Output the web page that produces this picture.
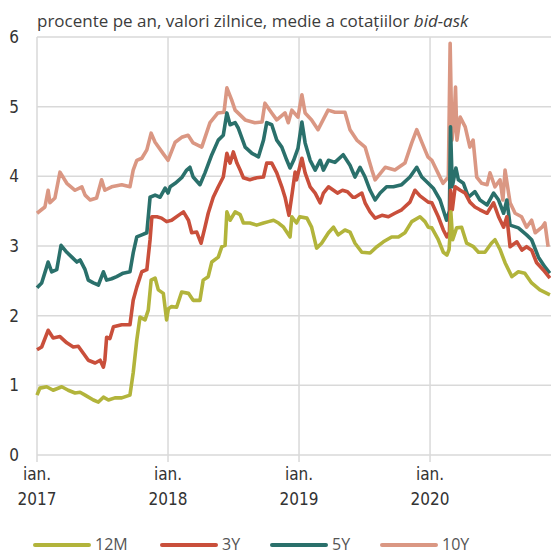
<!DOCTYPE html>
<html>
<head>
<meta charset="utf-8">
<script src="https://cdn.jsdelivr.net/npm/d3@7"></script>
<style>
  body { margin: 0; background: #fff; }
  svg { display: block; }
</style>
</head>
<body>
<div class="chart"></div>
<script>
// series names and colours (legend order)
const seriesNames = ['12M', '3Y', '5Y', '10Y'];
const seriesColors = ['#b2b43b', '#c94f3b', '#2a706b', '#da9783'];

const yTicks = [0, 1, 2, 3, 4, 5, 6];
const xTickYears = [2017, 2018, 2019, 2020];
const xTickMonth = 'ian.';
const title = 'procente pe an, valori zilnice, medie a cotațiilor ';
const titleItalic = 'bid-ask';

// daily values, [date, percent]
const s12M = [
  ['2017-01-01', 0.86], ['2017-01-09', 0.96], ['2017-01-28', 0.98], ['2017-02-15', 0.93],
  ['2017-03-11', 0.98], ['2017-03-29', 0.93], ['2017-04-17', 0.89], ['2017-05-01', 0.90],
  ['2017-05-15', 0.86], ['2017-06-07', 0.79], ['2017-06-21', 0.76], ['2017-07-05', 0.83],
  ['2017-07-19', 0.79], ['2017-08-06', 0.82], ['2017-08-25', 0.82], ['2017-09-17', 0.86],
  ['2017-09-26', 1.18], ['2017-10-06', 1.65], ['2017-10-15', 1.98], ['2017-10-29', 1.94],
  ['2017-11-07', 2.08], ['2017-11-15', 2.51], ['2017-11-26', 2.54], ['2017-12-05', 2.37],
  ['2017-12-19', 2.32], ['2017-12-28', 1.94], ['2018-01-02', 2.10], ['2018-01-11', 2.13],
  ['2018-01-25', 2.12], ['2018-02-08', 2.34], ['2018-02-27', 2.32], ['2018-03-12', 2.22],
  ['2018-03-31', 2.22], ['2018-04-09', 2.51], ['2018-04-23', 2.56], ['2018-05-03', 2.77],
  ['2018-05-21', 2.84], ['2018-05-31', 2.99], ['2018-06-09', 3.01], ['2018-06-14', 3.49],
  ['2018-06-23', 3.37], ['2018-07-07', 3.49], ['2018-07-21', 3.45], ['2018-07-30', 3.33],
  ['2018-08-17', 3.33], ['2018-09-05', 3.30], ['2018-09-24', 3.33], ['2018-10-08', 3.35],
  ['2018-10-22', 3.37], ['2018-11-05', 3.33], ['2018-11-19', 3.27], ['2018-12-07', 3.13],
  ['2018-12-12', 3.42], ['2018-12-25', 3.33], ['2019-01-03', 3.42], ['2019-01-23', 3.40],
  ['2019-02-05', 3.27], ['2019-02-19', 2.97], ['2019-03-05', 3.04], ['2019-03-24', 3.19],
  ['2019-04-07', 3.27], ['2019-04-20', 3.16], ['2019-05-09', 3.23], ['2019-05-23', 3.20],
  ['2019-06-06', 3.04], ['2019-06-25', 2.91], ['2019-07-18', 2.90], ['2019-08-06', 2.99],
  ['2019-08-24', 3.06], ['2019-09-16', 3.13], ['2019-10-05', 3.13], ['2019-10-23', 3.19],
  ['2019-11-11', 3.35], ['2019-12-04', 3.42], ['2019-12-18', 3.35], ['2019-12-27', 3.27],
  ['2020-01-06', 3.26], ['2020-01-24', 3.09], ['2020-02-07', 2.91], ['2020-02-17', 2.87],
  ['2020-02-23', 2.95], ['2020-02-26', 3.19], ['2020-02-28', 3.49], ['2020-03-04', 3.09],
  ['2020-03-15', 3.26], ['2020-03-29', 3.27], ['2020-04-12', 3.04], ['2020-05-01', 2.99],
  ['2020-05-15', 2.91], ['2020-06-02', 2.91], ['2020-06-20', 3.04], ['2020-06-30', 3.09],
  ['2020-07-14', 2.95], ['2020-07-28', 2.76], ['2020-08-16', 2.56], ['2020-09-03', 2.63],
  ['2020-09-21', 2.61], ['2020-10-10', 2.47], ['2020-11-02', 2.37], ['2020-11-30', 2.30]
];

const s3Y = [
  ['2017-01-01', 1.51], ['2017-01-14', 1.55], ['2017-02-01', 1.79], ['2017-02-15', 1.68],
  ['2017-03-06', 1.70], ['2017-03-25', 1.61], ['2017-04-12', 1.55], ['2017-04-26', 1.56],
  ['2017-05-10', 1.46], ['2017-05-24', 1.36], ['2017-06-12', 1.32], ['2017-06-26', 1.36],
  ['2017-07-05', 1.26], ['2017-07-09', 1.36], ['2017-07-14', 1.69], ['2017-07-23', 1.67],
  ['2017-08-02', 1.84], ['2017-08-25', 1.87], ['2017-09-17', 1.87], ['2017-09-26', 2.22],
  ['2017-10-06', 2.41], ['2017-10-20', 2.63], ['2017-11-03', 2.66], ['2017-11-12', 3.09],
  ['2017-11-17', 3.42], ['2017-12-01', 3.42], ['2017-12-14', 3.40], ['2017-12-28', 3.35],
  ['2018-01-11', 3.37], ['2018-01-30', 3.44], ['2018-02-13', 3.49], ['2018-02-27', 3.37],
  ['2018-03-08', 3.19], ['2018-03-22', 3.20], ['2018-04-03', 3.04], ['2018-04-14', 3.27],
  ['2018-04-23', 3.47], ['2018-05-07', 3.70], ['2018-05-21', 3.85], ['2018-06-04', 3.99],
  ['2018-06-14', 4.33], ['2018-06-23', 4.19], ['2018-07-02', 4.35], ['2018-07-12', 4.19],
  ['2018-07-21', 4.09], ['2018-07-30', 3.98], ['2018-08-17', 3.95], ['2018-09-05', 3.98],
  ['2018-09-24', 3.99], ['2018-10-03', 4.19], ['2018-10-17', 4.19], ['2018-10-31', 4.05],
  ['2018-11-14', 3.85], ['2018-11-23', 3.70], ['2018-12-04', 3.44], ['2018-12-13', 3.76],
  ['2018-12-21', 4.06], ['2018-12-25', 3.95], ['2019-01-09', 4.26], ['2019-01-18', 4.05],
  ['2019-02-01', 3.85], ['2019-02-15', 3.76], ['2019-03-01', 3.62], ['2019-03-10', 3.76],
  ['2019-03-24', 3.85], ['2019-04-18', 3.76], ['2019-05-02', 3.80], ['2019-05-16', 3.78],
  ['2019-05-31', 3.70], ['2019-06-06', 3.70], ['2019-06-25', 3.76], ['2019-07-04', 3.62],
  ['2019-07-18', 3.49], ['2019-08-01', 3.40], ['2019-08-20', 3.44], ['2019-09-07', 3.42],
  ['2019-09-25', 3.47], ['2019-10-14', 3.52], ['2019-11-06', 3.63], ['2019-11-20', 3.80],
  ['2019-12-04', 3.72], ['2019-12-27', 3.63], ['2020-01-06', 3.62], ['2020-01-24', 3.42],
  ['2020-02-07', 3.23], ['2020-02-17', 3.13], ['2020-02-24', 3.20], ['2020-02-27', 3.80],
  ['2020-03-03', 3.52], ['2020-03-11', 3.85], ['2020-03-25', 3.80], ['2020-04-08', 3.76],
  ['2020-04-21', 3.63], ['2020-05-05', 3.56], ['2020-05-19', 3.52], ['2020-06-08', 3.47],
  ['2020-06-26', 3.62], ['2020-07-10', 3.42], ['2020-07-24', 3.27], ['2020-08-02', 3.42],
  ['2020-08-11', 2.99], ['2020-08-30', 3.06], ['2020-09-13', 2.94], ['2020-09-26', 2.99],
  ['2020-10-10', 2.94], ['2020-10-24', 2.76], ['2020-11-11', 2.66], ['2020-11-30', 2.54]
];

const s5Y = [
  ['2017-01-01', 2.40], ['2017-01-14', 2.47], ['2017-01-28', 2.70], ['2017-02-01', 2.77],
  ['2017-02-11', 2.63], ['2017-02-25', 2.66], ['2017-03-09', 3.01], ['2017-03-25', 2.91],
  ['2017-04-08', 2.84], ['2017-04-22', 2.77], ['2017-05-01', 2.80], ['2017-05-15', 2.66],
  ['2017-05-24', 2.51], ['2017-06-07', 2.47], ['2017-06-21', 2.44], ['2017-07-05', 2.63],
  ['2017-07-14', 2.51], ['2017-07-28', 2.53], ['2017-08-11', 2.56], ['2017-08-29', 2.61],
  ['2017-09-17', 2.63], ['2017-09-26', 2.90], ['2017-10-06', 3.13], ['2017-10-20', 3.16],
  ['2017-11-03', 3.19], ['2017-11-12', 3.70], ['2017-11-26', 3.73], ['2017-12-10', 3.70],
  ['2017-12-24', 3.83], ['2018-01-01', 3.76], ['2018-01-07', 3.85], ['2018-01-21', 3.90],
  ['2018-02-08', 3.98], ['2018-02-22', 4.09], ['2018-03-03', 4.13], ['2018-03-12', 3.99],
  ['2018-03-31', 3.88], ['2018-04-14', 4.05], ['2018-05-03', 4.31], ['2018-05-21', 4.52],
  ['2018-06-04', 4.59], ['2018-06-14', 4.91], ['2018-06-23', 4.74], ['2018-07-07', 4.77],
  ['2018-07-16', 4.69], ['2018-08-04', 4.42], ['2018-08-23', 4.33], ['2018-09-10', 4.28],
  ['2018-09-24', 4.52], ['2018-10-03', 4.77], ['2018-10-17', 4.74], ['2018-10-31', 4.52],
  ['2018-11-14', 4.42], ['2018-11-28', 4.23], ['2018-12-07', 4.12], ['2018-12-17', 4.23],
  ['2018-12-29', 4.40], ['2019-01-09', 4.78], ['2019-01-18', 4.48], ['2019-02-01', 4.23],
  ['2019-02-15', 4.09], ['2019-03-01', 4.23], ['2019-03-10', 4.09], ['2019-03-24', 4.23],
  ['2019-04-11', 4.20], ['2019-05-04', 4.31], ['2019-05-23', 4.16], ['2019-06-06', 3.99],
  ['2019-06-20', 4.13], ['2019-07-04', 3.99], ['2019-07-18', 3.80], ['2019-08-01', 3.66],
  ['2019-08-15', 3.76], ['2019-09-02', 3.85], ['2019-09-21', 3.85], ['2019-10-14', 3.88],
  ['2019-11-06', 3.99], ['2019-11-25', 4.13], ['2019-12-09', 3.99], ['2019-12-27', 3.90],
  ['2020-01-10', 3.83], ['2020-01-29', 3.66], ['2020-02-16', 3.37], ['2020-02-24', 3.50],
  ['2020-02-27', 4.71], ['2020-03-03', 3.85], ['2020-03-13', 4.12], ['2020-03-20', 3.95],
  ['2020-04-03', 3.90], ['2020-04-17', 3.70], ['2020-05-05', 3.78], ['2020-05-19', 3.66],
  ['2020-06-08', 3.59], ['2020-06-26', 3.76], ['2020-07-10', 3.66], ['2020-07-24', 3.47],
  ['2020-08-02', 3.66], ['2020-08-11', 3.30], ['2020-09-03', 3.26], ['2020-09-26', 3.16],
  ['2020-10-10', 3.09], ['2020-10-29', 2.84], ['2020-11-16', 2.70], ['2020-11-30', 2.61]
];

const s10Y = [
  ['2017-01-01', 3.47], ['2017-01-23', 3.56], ['2017-02-01', 3.80], ['2017-02-06', 3.62],
  ['2017-02-20', 3.69], ['2017-03-06', 4.06], ['2017-03-25', 3.90], ['2017-04-17', 3.80],
  ['2017-05-06', 3.85], ['2017-05-15', 3.73], ['2017-05-29', 3.66], ['2017-06-16', 3.69],
  ['2017-06-30', 3.95], ['2017-07-09', 3.80], ['2017-07-28', 3.85], ['2017-08-25', 3.88],
  ['2017-09-17', 3.85], ['2017-09-26', 4.09], ['2017-10-06', 4.23], ['2017-10-20', 4.26],
  ['2017-11-03', 4.38], ['2017-11-15', 4.62], ['2017-11-26', 4.49], ['2017-12-18', 4.33],
  ['2018-01-01', 4.23], ['2018-01-21', 4.49], ['2018-02-08', 4.56], ['2018-02-26', 4.59],
  ['2018-03-12', 4.48], ['2018-04-05', 4.42], ['2018-04-28', 4.77], ['2018-05-20', 4.91],
  ['2018-06-06', 4.92], ['2018-06-14', 5.27], ['2018-06-27', 5.10], ['2018-07-07', 4.95],
  ['2018-08-04', 4.81], ['2018-08-31', 4.77], ['2018-09-20', 4.78], ['2018-09-28', 5.05],
  ['2018-10-17', 4.91], ['2018-10-31', 4.81], ['2018-11-23', 4.91], ['2018-12-02', 4.77],
  ['2018-12-12', 4.95], ['2018-12-29', 4.85], ['2019-01-09', 5.17], ['2019-01-18', 4.91],
  ['2019-02-05', 4.81], ['2019-02-23', 4.67], ['2019-03-09', 4.81], ['2019-03-23', 4.95],
  ['2019-04-11', 4.92], ['2019-05-09', 4.92], ['2019-05-23', 4.67], ['2019-06-11', 4.52],
  ['2019-07-04', 4.42], ['2019-07-23', 4.09], ['2019-08-01', 3.95], ['2019-08-29', 4.13],
  ['2019-09-25', 4.09], ['2019-10-23', 4.19], ['2019-11-11', 4.48], ['2019-11-25', 4.67],
  ['2019-12-09', 4.49], ['2019-12-26', 4.28], ['2020-01-06', 4.23], ['2020-01-23', 4.05],
  ['2020-02-06', 3.90], ['2020-02-21', 3.99], ['2020-02-26', 5.91], ['2020-03-02', 4.52],
  ['2020-03-07', 4.70], ['2020-03-12', 5.28], ['2020-03-16', 4.52], ['2020-03-25', 4.85],
  ['2020-04-08', 4.71], ['2020-04-21', 4.42], ['2020-04-30', 4.52], ['2020-05-10', 3.99],
  ['2020-05-24', 3.90], ['2020-06-08', 3.88], ['2020-06-16', 4.05], ['2020-06-30', 3.85],
  ['2020-07-14', 3.95], ['2020-07-22', 3.66], ['2020-07-28', 4.09], ['2020-08-11', 3.62],
  ['2020-08-25', 3.47], ['2020-09-12', 3.42], ['2020-09-26', 3.27], ['2020-10-10', 3.37],
  ['2020-10-20', 3.19], ['2020-11-08', 3.27], ['2020-11-16', 3.33], ['2020-11-25', 2.99]
];

const seriesData = [s12M, s3Y, s5Y, s10Y];

const width = 551;
const height = 555;
const margin = { top: 37, right: 0, bottom: 100, left: 37 };
const parse = d3.timeParse('%Y-%m-%d');

const svg = d3
  .select('.chart')
  .append('svg')
  .attr('width', width)
  .attr('height', height);

const x = d3
  .scaleTime()
  .domain([parse('2017-01-01'), parse('2020-12-03')])
  .range([margin.left, width - margin.right]);

const y = d3
  .scaleLinear()
  .domain([0, 6])
  .range([height - margin.bottom - 0, margin.top]);

const grid = '#d9d9d9';
const tickFont = '"Liberation Sans Narrow", "DejaVu Sans Condensed", sans-serif';
const textFont = '"Open Sans", "Noto Sans", sans-serif';

// horizontal gridlines
svg
  .append('g')
  .selectAll('line')
  .data(yTicks)
  .enter()
  .append('line')
  .attr('x1', margin.left)
  .attr('x2', width)
  .attr('y1', (d) => y(d))
  .attr('y2', (d) => y(d))
  .attr('stroke', grid)
  .attr('stroke-width', 1.5);

// vertical gridlines at january of each year
svg
  .append('g')
  .selectAll('line')
  .data(xTickYears)
  .enter()
  .append('line')
  .attr('x1', (d) => x(new Date(d, 0, 1)))
  .attr('x2', (d) => x(new Date(d, 0, 1)))
  .attr('y1', y(6))
  .attr('y2', y(0) + 7)
  .attr('stroke', grid)
  .attr('stroke-width', 1.5);

// y tick labels
svg
  .append('g')
  .selectAll('text')
  .data(yTicks)
  .enter()
  .append('text')
  .attr('x', 14)
  .attr('y', (d) => y(d) + 6)
  .attr('text-anchor', 'middle')
  .attr('font-family', tickFont)
  .attr('font-size', '17px')
  .attr('fill', '#333')
  .text((d) => d);

// x tick labels, two lines
const xl = svg
  .append('g')
  .selectAll('text')
  .data(xTickYears)
  .enter()
  .append('text')
  .attr('text-anchor', 'middle')
  .attr('font-family', tickFont)
  .attr('font-size', '17px')
  .attr('fill', '#333');
xl.append('tspan')
  .attr('x', (d) => x(new Date(d, 0, 1)))
  .attr('y', 480)
  .text(xTickMonth);
xl.append('tspan')
  .attr('x', (d) => x(new Date(d, 0, 1)))
  .attr('y', 505)
  .text((d) => d);

// lines
const line = d3
  .line()
  .x((d) => x(parse(d[0])))
  .y((d) => y(d[1]))
  .curve(d3.curveLinear);

const drawOrder = [3, 2, 1, 0];
svg
  .append('g')
  .selectAll('path')
  .data(drawOrder)
  .enter()
  .append('path')
  .attr('d', (i) => line(seriesData[i]))
  .attr('fill', 'none')
  .attr('stroke', (i) => seriesColors[i])
  .attr('stroke-width', 3.6)
  .attr('stroke-linejoin', 'round');

// title
const t = svg
  .append('text')
  .attr('x', margin.left)
  .attr('y', 27)
  .attr('font-family', textFont)
  .attr('font-size', '17px')
  .attr('fill', '#3c3c3c');
t.append('tspan').text(title);
t.append('tspan').attr('font-style', 'italic').text(titleItalic);

// legend
const legendX = [35, 162, 272, 382];
const lg = svg
  .append('g')
  .selectAll('g')
  .data(seriesNames)
  .enter()
  .append('g')
  .attr('transform', (d, i) => `translate(${legendX[i]}, 545)`);
lg.append('line')
  .attr('x1', 0)
  .attr('x2', 54)
  .attr('stroke', (d, i) => seriesColors[i])
  .attr('stroke-width', 4)
  .attr('stroke-linecap', 'round');
lg.append('text')
  .attr('x', 60)
  .attr('y', 5)
  .attr('font-family', textFont)
  .attr('font-size', '16px')
  .attr('fill', '#555')
  .text((d) => d);
</script>
</body>
</html>
